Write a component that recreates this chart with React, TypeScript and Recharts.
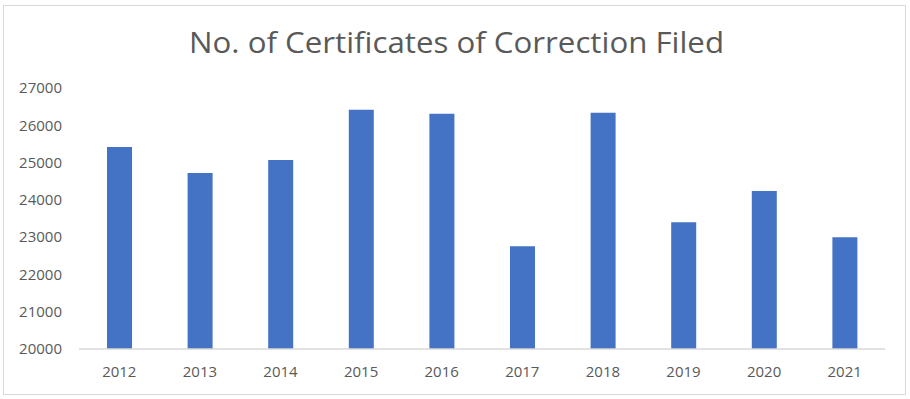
import React from "react";
import { BarChart, Bar, XAxis, YAxis } from "recharts";

const years = ["2012", "2013", "2014", "2015", "2016", "2017", "2018", "2019", "2020", "2021"];
const certificates = [25420, 24720, 25070, 26420, 26310, 22755, 26335, 23400, 24235, 23000];
const yTicks = [20000, 21000, 22000, 23000, 24000, 25000, 26000, 27000];
const title = "No. of Certificates of Correction Filed";

const data = years.map((y, i) => ({ year: y, value: certificates[i] }));

const FONT = "'Open Sans', 'Noto Sans', sans-serif";
const TEXT = "#595959";

export default function App() {
  return (
    <div style={{ position: "fixed", left: 0, top: 0, width: 910, height: 399, background: "#fff" }}>
      <div
        style={{
          position: "absolute",
          left: 3,
          top: 5,
          width: 903,
          height: 390,
          border: "1.5px solid #D9D9D9",
          boxSizing: "border-box",
        }}
      />
      <svg style={{ position: "absolute", left: 0, top: 0 }} width={910} height={80}>
        <text
          x={456.5}
          y={53.3}
          textAnchor="middle"
          fontFamily={FONT}
          fontSize={29}
          fill={TEXT}
          textLength={535}
          lengthAdjust="spacingAndGlyphs"
        >
          {title}
        </text>
      </svg>
      <div style={{ position: "absolute", left: 0, top: 0 }}>
        <BarChart
          width={910}
          height={399}
          data={data}
          margin={{ top: 88, right: 25, bottom: 0, left: 0 }}
          barCategoryGap={0}
        >
          <XAxis
            dataKey="year"
            height={50}
            tickLine={false}
            tickSize={0}
            tickMargin={17}
            axisLine={{ stroke: "#D9D9D9", strokeWidth: 1.5 }}
            tick={{ fill: TEXT, fontSize: 15, fontFamily: FONT }}
            interval={0}
          />
          <YAxis
            width={79}
            domain={[20000, 27000]}
            ticks={yTicks}
            allowDataOverflow
            axisLine={false}
            tickLine={false}
            tickSize={0}
            tickMargin={17}
            tick={{ fill: TEXT, fontSize: 15, fontFamily: FONT }}
          />
          <Bar dataKey="value" fill="#4472C4" barSize={25} isAnimationActive={false} />
        </BarChart>
      </div>
    </div>
  );
}
